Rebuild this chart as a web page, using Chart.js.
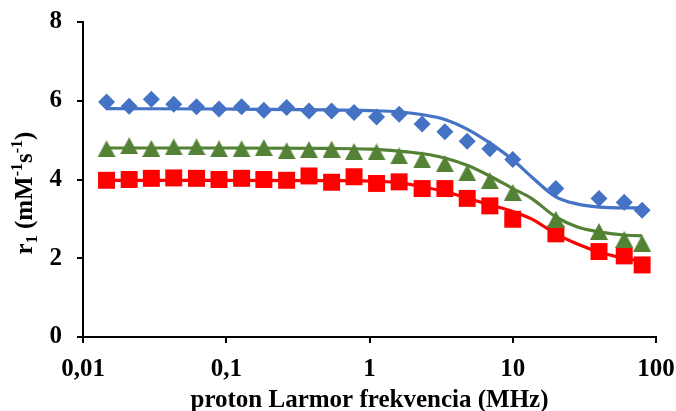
<!DOCTYPE html>
<html>
<head>
<meta charset="utf-8">
<script src="https://cdn.jsdelivr.net/npm/chart.js@4/dist/chart.umd.min.js"></script>
<style>
  html, body { margin: 0; padding: 0; background: #fff; }
  #wrap { width: 676px; height: 411px; position: relative; }
</style>
</head>
<body>
<div id="wrap"><canvas id="nmrd"></canvas></div>
<script>
// mért pontok (MHz)
const freqs = [0.0146, 0.021, 0.030, 0.043, 0.062, 0.089, 0.128, 0.183, 0.264, 0.378, 0.544, 0.78,
               1.12, 1.61, 2.33, 3.36, 4.81, 6.92, 10, 20, 40, 60, 80];
const blueR1 = [5.97, 5.86, 6.04, 5.91, 5.85, 5.79, 5.85, 5.76, 5.83, 5.74, 5.74, 5.70,
                5.59, 5.66, 5.41, 5.21, 4.97, 4.78, 4.51, 3.77, 3.52, 3.42, 3.22];
const greenR1 = [4.78, 4.86, 4.79, 4.83, 4.83, 4.78, 4.78, 4.81, 4.73, 4.76, 4.77, 4.71,
                 4.70, 4.60, 4.50, 4.40, 4.17, 3.97, 3.67, 2.99, 2.68, 2.48, 2.38];
const redR1 = [3.98, 4.00, 4.03, 4.04, 4.03, 4.00, 4.03, 4.00, 3.98, 4.09, 3.93, 4.07,
               3.90, 3.94, 3.77, 3.77, 3.52, 3.33, 2.99, 2.62, 2.17, 2.06, 1.83];

// illesztett görbék (leolvasva)
const fitFreqs = [0.0146, 0.1, 0.5, 1, 1.6, 2.3, 3.4, 4.8, 6.9, 10, 13.5, 20, 28, 40, 60, 80];
const blueFit = [5.80, 5.79, 5.77, 5.75, 5.72, 5.65, 5.52, 5.28, 4.93, 4.50, 4.07, 3.56, 3.38, 3.30, 3.28, 3.28];
const greenFit = [4.80, 4.80, 4.79, 4.77, 4.72, 4.66, 4.54, 4.36, 4.09, 3.77, 3.52, 3.05, 2.80, 2.67, 2.59, 2.57];
const redFit = [3.98, 3.98, 3.97, 3.96, 3.92, 3.82, 3.69, 3.53, 3.36, 3.19, 3.00, 2.62, 2.37, 2.16, 2.00, 1.92];

// tengely feliratok
const xTicks = [0.01, 0.1, 1, 10, 100];
const xTickLabels = ['0,01', '0,1', '1', '10', '100'];
const yTicks = [0, 2, 4, 6, 8];
const xTitle = 'proton Larmor frekvencia (MHz)';
// [szöveg, 0 = normál, 1 = alsó index, -1 = felső index]
const yTitleParts = [['r', 0], ['1', 1], [' (mM', 0], ['-1', -1], ['s', 0], ['-1', -1], [')', 0]];

const BLUE = '#4472C4';
const GREEN = '#548235';
const RED = '#FF0000';
const FONT = '"Liberation Serif", "Times New Roman", serif';

function toXY(xs, ys) {
    return xs.map((x, i) => ({ x: x, y: ys[i] }));
}

// Excel-szerű háromszög marker
function makeTriangle(color, w, h) {
    const c = document.createElement('canvas');
    c.width = w;
    c.height = h;
    const g = c.getContext('2d');
    g.fillStyle = color;
    g.beginPath();
    g.moveTo(w / 2, 0);
    g.lineTo(w, h);
    g.lineTo(0, h);
    g.closePath();
    g.fill();
    return c;
}

const axisTitles = {
    id: 'axisTitles',
    afterDraw(chart) {
        const ctx = chart.ctx;
        const area = chart.chartArea;
        ctx.save();
        ctx.fillStyle = '#000';

        // x cím
        ctx.font = 'bold 25px ' + FONT;
        ctx.textAlign = 'center';
        ctx.textBaseline = 'alphabetic';
        ctx.fillText(xTitle, (area.left + area.right) / 2, 407);

        // y cím, elforgatva
        const big = 'bold 25px ' + FONT;
        const small = 'bold 16px ' + FONT;
        let total = 0;
        yTitleParts.forEach(p => {
            ctx.font = p[1] === 0 ? big : small;
            total += ctx.measureText(p[0]).width;
        });
        ctx.translate(32, 193);
        ctx.rotate(-Math.PI / 2);
        ctx.textAlign = 'left';
        let pos = -total / 2;
        yTitleParts.forEach(p => {
            ctx.font = p[1] === 0 ? big : small;
            const dy = p[1] === 1 ? 5 : (p[1] === -1 ? -10 : 0);
            ctx.fillText(p[0], pos, dy);
            pos += ctx.measureText(p[0]).width;
        });
        ctx.restore();
    }
};

const lineStyle = {
    type: 'line',
    pointRadius: 0,
    borderWidth: 3.2,
    fill: false,
    cubicInterpolationMode: 'monotone',
    order: 0
};

const ctx = document.getElementById('nmrd').getContext('2d');
new Chart(ctx, {
    type: 'scatter',
    data: {
        datasets: [
            Object.assign({ data: toXY(fitFreqs, blueFit), borderColor: BLUE }, lineStyle),
            Object.assign({ data: toXY(fitFreqs, greenFit), borderColor: GREEN }, lineStyle),
            Object.assign({ data: toXY(fitFreqs, redFit), borderColor: RED }, lineStyle),
            {
                data: toXY(freqs, blueR1),
                pointStyle: 'rectRot',
                pointRadius: 8.5,
                backgroundColor: BLUE,
                borderWidth: 0,
                order: 1
            },
            {
                data: toXY(freqs, greenR1),
                pointStyle: makeTriangle(GREEN, 18, 17),
                backgroundColor: GREEN,
                order: 1
            },
            {
                data: toXY(freqs, redR1),
                pointStyle: 'rect',
                pointRadius: 12,
                backgroundColor: RED,
                borderWidth: 0,
                order: 1
            }
        ]
    },
    options: {
        responsive: true,
        maintainAspectRatio: false,
        animation: false,
        layout: { padding: { left: 0, right: 20, top: 22, bottom: 0 } },
        plugins: {
            legend: { display: false },
            tooltip: { enabled: false }
        },
        scales: {
            x: {
                type: 'logarithmic',
                min: 0.01,
                max: 100,
                afterBuildTicks: scale => {
                    scale.ticks = xTicks.map(v => ({ value: v }));
                },
                afterFit: scale => {
                    scale.height = 74;
                    scale.paddingLeft = 0;
                    scale.paddingRight = 0;
                },
                grid: { drawOnChartArea: false, drawTicks: true, tickLength: 6, color: '#000', lineWidth: 2 },
                border: { display: true, color: '#000', width: 2 },
                ticks: {
                    autoSkip: false,
                    maxRotation: 0,
                    padding: 12,
                    color: '#000',
                    font: { family: FONT, size: 25, weight: 'bold' },
                    callback: value => {
                        const i = xTicks.indexOf(value);
                        return i >= 0 ? xTickLabels[i] : '';
                    }
                }
            },
            y: {
                min: 0,
                max: 8,
                afterBuildTicks: scale => {
                    scale.ticks = yTicks.map(v => ({ value: v }));
                },
                afterFit: scale => {
                    scale.width = 83;
                    scale.paddingTop = 0;
                    scale.paddingBottom = 0;
                },
                grid: { drawOnChartArea: false, drawTicks: true, tickLength: 6, color: '#000', lineWidth: 2 },
                border: { display: true, color: '#000', width: 2 },
                ticks: {
                    padding: 15,
                    color: '#000',
                    font: { family: FONT, size: 25, weight: 'bold' }
                }
            }
        }
    },
    plugins: [axisTitles]
});
</script>
</body>
</html>
